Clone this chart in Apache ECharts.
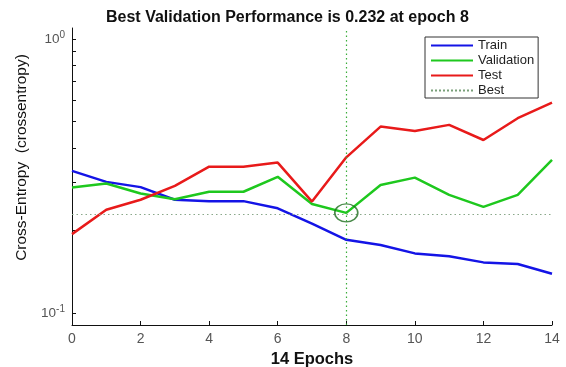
<!DOCTYPE html>
<html><head><meta charset="utf-8">
<script src="https://cdn.jsdelivr.net/npm/echarts@6/dist/echarts.min.js"></script>
<style>html,body{margin:0;padding:0;background:#fff}#c{width:566px;height:367px}</style>
</head><body><div id="c"></div>
<script>
const epochs = [0,1,2,3,4,5,6,7,8,9,10,11,12,13,14];
const trainVals = [0.330,0.301,0.288,0.259,0.256,0.256,0.241,0.212,0.185,0.177,0.165,0.161,0.153,0.151,0.139];
const validVals = [0.287,0.297,0.273,0.260,0.277,0.277,0.314,0.250,0.232,0.293,0.312,0.270,0.244,0.270,0.362];
const testVals  = [0.194,0.238,0.259,0.291,0.342,0.342,0.354,0.255,0.370,0.479,0.462,0.486,0.428,0.514,0.586];
const bestEpoch = 8;
const bestValue = 0.232;
const yMinorTicks = [0.1,0.2,0.3,0.4,0.5,0.6,0.7,0.8,0.9,1.0];

const pair = arr => epochs.map((e,i)=>[e, arr[i]]);
const chart = echarts.init(document.getElementById('c'), null, {renderer:'canvas'});
const font = 'Liberation Sans, Arial, sans-serif';
chart.setOption({
  animation:false,
  backgroundColor:'#fff',
  title:{text:'Best Validation Performance is 0.232 at epoch 8', left:101, top:5,
    textStyle:{fontFamily:font, fontWeight:'bold', fontSize:16, color:'#111'}},
  grid:{left:72, right:14, top:28, bottom:42, containLabel:false, outerBoundsMode:'none'},
  legend:{orient:'vertical', left:425, top:37, data:['Train','Validation','Test','Best'],
    backgroundColor:'#fff', borderColor:'#333', borderWidth:1, padding:[2,4,1,5],
    itemWidth:42, itemHeight:10, itemGap:2, itemStyle:{opacity:0},
    textStyle:{fontFamily:font, fontSize:13, color:'#222', lineHeight:12.3}},
  xAxis:{type:'value', min:0, max:14, interval:2,
    name:'14 Epochs', nameLocation:'middle', nameGap:23,
    nameTextStyle:{fontFamily:font, fontWeight:'bold', fontSize:16.5, color:'#111'},
    axisLine:{lineStyle:{color:'#111', width:1}},
    axisTick:{inside:true, length:4, lineStyle:{color:'#111'}},
    axisLabel:{fontFamily:font, fontSize:14, color:'#555', margin:7},
    splitLine:{show:false}},
  yAxis:{type:'log', logBase:10, min:0.0904, max:1.097,
    name:'Cross-Entropy  (crossentropy)', nameLocation:'middle', nameGap:40,
    nameTextStyle:{fontFamily:font, fontSize:15.5, color:'#111', padding:[0,0,0,38]},
    axisLine:{lineStyle:{color:'#111', width:1}},
    axisTick:{inside:true, length:4, lineStyle:{color:'#111'}, customValues: yMinorTicks},
    axisLabel:{showMinLabel:false, showMaxLabel:false, margin:7,
      formatter:function(v){ const e=Math.log10(v); if(Math.abs(e-Math.round(e))<1e-6){return '{b|10}{s|'+Math.round(e)+'}';} return '';},
      rich:{b:{fontFamily:font, fontSize:13.5, color:'#555', lineHeight:18}, s:{fontFamily:font, fontSize:10, color:'#555', verticalAlign:'top', lineHeight:11}}},
    splitLine:{show:false}},
  series:[
    {name:'Train', type:'line', data:pair(trainVals), symbol:'none', lineStyle:{color:'#1414e6', width:2.5}, itemStyle:{color:'#1414e6'}},
    {name:'Validation', type:'line', data:pair(validVals), symbol:'none', lineStyle:{color:'#1ec81e', width:2.5}, itemStyle:{color:'#1ec81e'}},
    {name:'Test', type:'line', data:pair(testVals), symbol:'none', lineStyle:{color:'#e81a1a', width:2.5}, itemStyle:{color:'#e81a1a'}},
    {name:'Best', type:'line', data:[], symbol:'none', lineStyle:{color:'#7aa07a', width:1, type:'dotted'}, itemStyle:{color:'#7aa07a'},
      markLine:{silent:true, symbol:'none', label:{show:false},
        data:[{yAxis:bestValue, lineStyle:{color:'#8aa88a', width:1.2, type:[1.5,3]}},
              {xAxis:bestEpoch, lineStyle:{color:'#3aad3a', width:1.2, type:[1.5,3]}}]}},
    {name:'circle', type:'scatter', data:[[bestEpoch,bestValue]], symbol:'circle', symbolSize:[23,18], z:5,
      itemStyle:{color:'rgba(0,0,0,0)', borderColor:'#1d6e1d', borderWidth:1.5}}
  ]
});
</script></body></html>
